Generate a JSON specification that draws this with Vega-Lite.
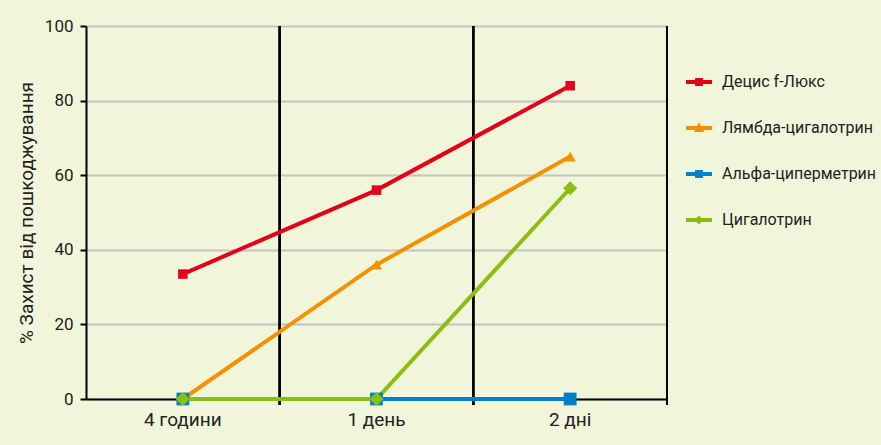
{
  "$schema": "https://vega.github.io/schema/vega-lite/v6.json",
  "width": 581,
  "height": 373,
  "autosize": "none",
  "padding": {"left": 86, "top": 26, "right": 214, "bottom": 46},
  "background": "#f1f5da",
  "config": {
    "view": {"stroke": null},
    "font": "Roboto",
    "axis": {"labelFont": "Roboto", "titleFont": "Roboto", "labelColor": "#222", "titleColor": "#222"}
  },
  "data": {
    "values": [
      {"time": "4 години", "series": "Децис f-Люкс", "value": 33.5},
      {"time": "1 день", "series": "Децис f-Люкс", "value": 56},
      {"time": "2 дні", "series": "Децис f-Люкс", "value": 84},
      {"time": "4 години", "series": "Лямбда-цигалотрин", "value": 0},
      {"time": "1 день", "series": "Лямбда-цигалотрин", "value": 36},
      {"time": "2 дні", "series": "Лямбда-цигалотрин", "value": 65},
      {"time": "4 години", "series": "Альфа-циперметрин", "value": 0},
      {"time": "1 день", "series": "Альфа-циперметрин", "value": 0},
      {"time": "2 дні", "series": "Альфа-циперметрин", "value": 0},
      {"time": "4 години", "series": "Цигалотрин", "value": 0},
      {"time": "1 день", "series": "Цигалотрин", "value": 0},
      {"time": "2 дні", "series": "Цигалотрин", "value": 56.5}
    ]
  },
  "resolve": {"legend": {"color": "independent", "shape": "independent", "size": "independent"}},
  "encoding": {
    "x": {
      "field": "time", "type": "nominal", "sort": ["4 години", "1 день", "2 дні"],
      "scale": {"paddingInner": 0, "paddingOuter": 0},
      "axis": {"title": null, "labelAngle": 0, "labelFontSize": 19, "labelPadding": 11, "ticks": false, "domainColor": "#000", "domainWidth": 2, "grid": false}
    },
    "y": {
      "field": "value", "type": "quantitative",
      "scale": {"domain": [0, 100]},
      "axis": {"title": "% Захист від пошкоджування", "titleFontSize": 19, "titleFontWeight": "normal", "titlePadding": 8, "labelFontSize": 17, "values": [0, 20, 40, 60, 80, 100], "labelOverlap": false, "tickColor": "#000", "tickSize": 6, "tickWidth": 2, "labelPadding": 7, "domainColor": "#000", "domainWidth": 2, "gridColor": "#c4c4c4", "gridWidth": 2}
    }
  },
  "layer": [
    {
      "mark": {"type": "rule", "color": "#000", "strokeWidth": 2},
      "encoding": {
        "x": {"field": "time", "type": "nominal", "sort": ["4 години", "1 день", "2 дні"], "bandPosition": 1},
        "y": {"datum": -1.6},
        "y2": {"datum": 100}
      }
    },
    {
      "mark": {"type": "line", "strokeWidth": 4},
      "encoding": {
        "color": {
          "field": "series", "type": "nominal",
          "sort": ["Децис f-Люкс", "Лямбда-цигалотрин", "Альфа-циперметрин", "Цигалотрин"],
          "scale": {"domain": ["Децис f-Люкс", "Лямбда-цигалотрин", "Альфа-циперметрин", "Цигалотрин"], "range": ["#e3001b", "#f39200", "#0080c8", "#8cbd12"]},
          "legend": {
            "title": null, "orient": "none", "legendX": 600, "legendY": 43,
            "labelFontSize": 16, "labelColor": "#222", "labelOffset": 10,
            "symbolSize": 676, "rowPadding": 25,
            "symbolType": "M-1,-0.15H1V0.15H-1Z M-0.3,-0.3H0.3V0.3H-0.3Z",
            "encode": {
              "symbols": {
                "update": {
                  "fill": {"scale": "color", "field": "value"},
                  "stroke": {"value": "transparent"},
                  "strokeWidth": {"value": 0},
                  "shape": {"signal": "datum.value === 'Лямбда-цигалотрин' ? 'M-1,-0.15H1V0.15H-1Z M0,-0.45L0.4,0.3H-0.4Z' : datum.value === 'Цигалотрин' ? 'M-1,-0.15H1V0.15H-1Z M0,-0.35L0.35,0L0,0.35L-0.35,0Z' : 'M-1,-0.15H1V0.15H-1Z M-0.3,-0.3H0.3V0.3H-0.3Z'"}
                }
              }
            }
          }
        }
      }
    },
    {
      "mark": {"type": "point", "filled": true, "opacity": 1},
      "encoding": {
        "color": {"field": "series", "type": "nominal", "legend": null},
        "shape": {
          "field": "series", "type": "nominal", "legend": null,
          "scale": {"domain": ["Децис f-Люкс", "Лямбда-цигалотрин", "Альфа-циперметрин", "Цигалотрин"], "range": ["square", "triangle-up", "square", "diamond"]}
        },
        "size": {
          "field": "series", "type": "nominal", "legend": null,
          "scale": {"domain": ["Децис f-Люкс", "Лямбда-цигалотрин", "Альфа-циперметрин", "Цигалотрин"], "range": [90, 200, 90, 120]}
        }
      }
    }
  ]
}
